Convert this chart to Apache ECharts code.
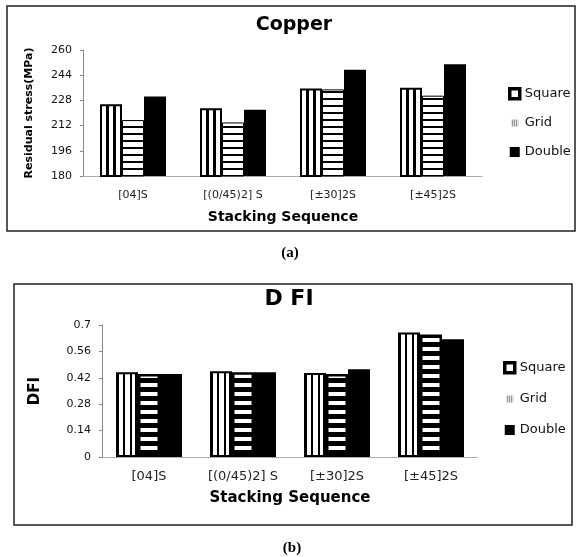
<!DOCTYPE html>
<html>
<head>
<meta charset="utf-8">
<script src="https://cdn.jsdelivr.net/npm/echarts@6/dist/echarts.min.js"></script>
<style>
html,body{margin:0;padding:0;background:#fff}
#c{width:576px;height:557px}
</style>
</head>
<body>
<div id="c"></div>
<script>
// ---------- data ----------
const categories = ['[04]S', '[(0/45)2] S', '[±30]2S', '[±45]2S'];
const seriesNames = ['Square', 'Grid', 'Double'];
const copperSquare = [225.5, 223, 235.5, 236];
const copperGrid   = [215.5, 214, 235, 231];
const copperDouble = [230.5, 222, 247.5, 251];
const dfiSquare = [0.45, 0.455, 0.445, 0.66];
const dfiGrid   = [0.44, 0.45, 0.44, 0.65];
const dfiDouble = [0.44, 0.45, 0.465, 0.625];
const copperTicks = [180, 196, 212, 228, 244, 260];
const dfiTicks = [0, 0.14, 0.28, 0.42, 0.56, 0.7];

// ---------- patterns ----------
function vStripePattern(period, offset, blacks) {
  const c = document.createElement('canvas');
  c.width = period; c.height = 2;
  const g = c.getContext('2d');
  g.fillStyle = '#fff'; g.fillRect(0, 0, period, 2);
  g.fillStyle = '#000';
  blacks.forEach(b => g.fillRect((offset + b[0]) % period, 0, b[1], 2));
  return { image: c, repeat: 'repeat' };
}
function hStripePattern(period, black) {
  const c = document.createElement('canvas');
  c.width = 2; c.height = period;
  const g = c.getContext('2d');
  g.fillStyle = '#fff'; g.fillRect(0, 0, 2, period);
  g.fillStyle = '#000'; g.fillRect(0, 0, 2, black);
  return { image: c, repeat: 'repeat' };
}
function tinyStripes() {
  const c = document.createElement('canvas');
  c.width = 2; c.height = 2;
  const g = c.getContext('2d');
  g.fillStyle = '#fff'; g.fillRect(0, 0, 2, 2);
  g.fillStyle = '#777'; g.fillRect(0, 0, 1, 2);
  return { image: c, repeat: 'repeat' };
}

// layout
const A = { left: 83, width: 400, top: 50, height: 126 };
const B = { left: 102, width: 376, top: 325, height: 132 };
const BW = 22;
const bandA = A.width / categories.length;
const bandB = B.width / categories.length;
const offA = (A.left + bandA / 2 - 1.5 * BW) % bandA;
const offB = (B.left + bandB / 2 - 1.5 * BW) % bandB;

const sqA = vStripePattern(bandA, offA, [[0, 2], [6, 3], [13, 3], [20, 2]]);
const sqB = vStripePattern(bandB, offB, [[0, 3], [7, 2], [14, 2], [19, 3]]);
const grA = hStripePattern(7, 2);
const grB = hStripePattern(9, 5);

const font = 'DejaVu Sans';

function legendData() {
  return [
    { name: 'Square', icon: 'rect', itemStyle: { color: '#fff', borderColor: '#000', borderWidth: 3.5 } },
    { name: 'Grid', icon: 'rect', itemStyle: { color: tinyStripes(), borderColor: '#fff', borderWidth: 3 } },
    { name: 'Double', icon: 'rect', itemStyle: { color: '#000', borderWidth: 0 } }
  ];
}

function yAxisCommon(ticks, gridIndex, min, max, name, nameGap, nameSize) {
  return {
    type: 'value', gridIndex, min, max,
    name, nameLocation: 'middle', nameGap,
    nameTextStyle: { fontFamily: font, fontWeight: 'bold', fontSize: nameSize, color: '#000' },
    splitLine: { show: false },
    axisLine: { show: true, lineStyle: { color: '#888', width: 1 } },
    axisTick: { show: true, length: 3, lineStyle: { color: '#888' }, customValues: ticks },
    axisLabel: { customValues: ticks, fontFamily: font, fontSize: 11, color: '#111', margin: 11,
                 formatter: v => String(v) }
  };
}
function xAxisCommon(gridIndex, labelSize, labelMargin, nameSize) {
  return {
    type: 'category', gridIndex, data: categories,
    name: 'Stacking Sequence', nameLocation: 'middle', nameGap: 34,
    nameTextStyle: { fontFamily: font, fontWeight: 'bold', fontSize: nameSize, color: '#000' },
    axisLine: { show: true, lineStyle: { color: '#999', width: 1, type: 'dotted' } },
    axisTick: { show: false },
    axisLabel: { fontFamily: font, fontSize: labelSize, color: '#222', margin: labelMargin, interval: 0 }
  };
}

function bar(name, data, gi, color, bw, bc) {
  return {
    type: 'bar', name, data, xAxisIndex: gi, yAxisIndex: gi,
    barWidth: BW, barGap: '0%',
    itemStyle: { color, borderColor: bc || '#000', borderWidth: bw },
    emphasis: { disabled: true }
  };
}

const chart = echarts.init(document.getElementById('c'), null, { renderer: 'canvas' });
chart.setOption({
  animation: false,
  backgroundColor: '#fff',
  grid: [
    { left: A.left, top: A.top, width: A.width, height: A.height, containLabel: false },
    { left: B.left, top: B.top, width: B.width, height: B.height, containLabel: false }
  ],
  xAxis: [xAxisCommon(0, 11, 14, 14), xAxisCommon(1, 13, 13, 15)],
  yAxis: [
    yAxisCommon(copperTicks, 0, 180, 260, 'Residual stress(MPa)', 48, 11),
    yAxisCommon(dfiTicks, 1, 0, 0.7, 'DFI', 59, 15)
  ],
  legend: [
    { orient: 'vertical', left: 503, top: 82, itemWidth: 10, itemHeight: 10, itemGap: 16,
      data: legendData(), selectedMode: false,
      textStyle: { fontFamily: font, fontSize: 13, color: '#111' } },
    { orient: 'vertical', left: 498, top: 356, itemWidth: 10, itemHeight: 10, itemGap: 18,
      data: legendData(), selectedMode: false,
      textStyle: { fontFamily: font, fontSize: 13, color: '#111' } }
  ],
  series: [
    bar('Square', copperSquare, 0, sqA, 2),
    bar('Grid', copperGrid, 0, grA, 1),
    bar('Double', copperDouble, 0, '#000', 0),
    bar('Square', dfiSquare, 1, sqB, 2),
    bar('Grid', dfiGrid, 1, grB, 2.5),
    bar('Double', dfiDouble, 1, '#000', 0)
  ],
  graphic: [
    { type: 'rect', shape: { x: 7, y: 6, width: 568, height: 225 },
      style: { fill: 'none', stroke: '#222', lineWidth: 1.5 }, silent: true },
    { type: 'rect', shape: { x: 14, y: 284, width: 558, height: 241 },
      style: { fill: 'none', stroke: '#222', lineWidth: 1.5 }, silent: true },
    { type: 'text', x: 294, y: 25,
      style: { text: 'Copper', fill: '#000', font: 'bold 19px "DejaVu Sans"', textAlign: 'center', textVerticalAlign: 'middle' } },
    { type: 'text', x: 289, y: 299,
      style: { text: 'D FI', fill: '#000', font: 'bold 22px "DejaVu Sans"', textAlign: 'center', textVerticalAlign: 'middle' } },
    { type: 'text', x: 290, y: 253,
      style: { text: '(a)', fill: '#000', font: 'bold 15px "Liberation Serif"', textAlign: 'center', textVerticalAlign: 'middle' } },
    { type: 'text', x: 292, y: 548,
      style: { text: '(b)', fill: '#000', font: 'bold 15px "Liberation Serif"', textAlign: 'center', textVerticalAlign: 'middle' } }
  ]
});
</script>
</body>
</html>
